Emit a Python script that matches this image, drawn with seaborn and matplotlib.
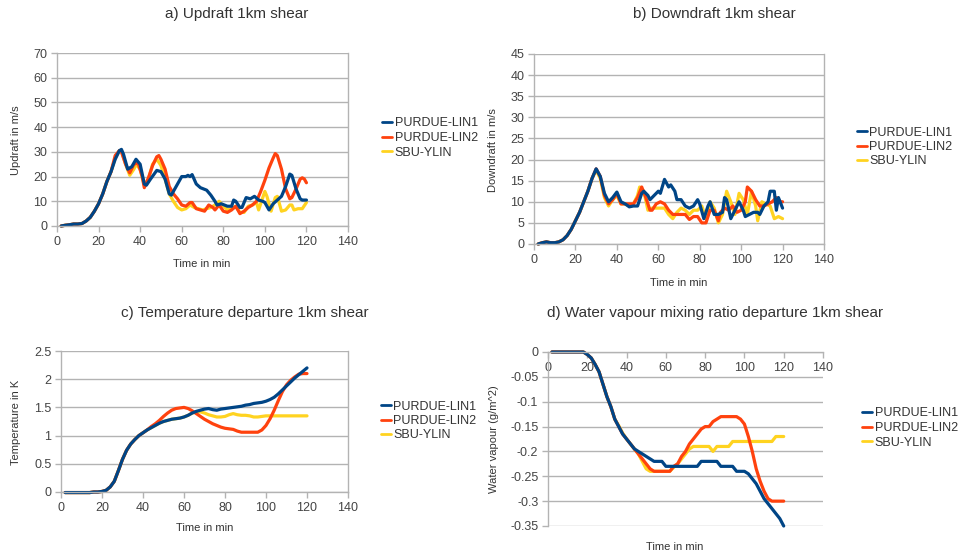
import matplotlib
matplotlib.use("Agg")
import matplotlib.pyplot as plt
import seaborn as sns
import pandas as pd
from matplotlib.lines import Line2D
from matplotlib.ticker import FuncFormatter, MultipleLocator

# ---------------- data ----------------
SERIES = ["PURDUE-LIN1", "PURDUE-LIN2", "SBU-YLIN"]
COLORS = ["#004586", "#ff420e", "#ffd320"]

# a) Updraft (m/s)
up_lin1_t = [2, 4, 6, 8, 10, 12, 14, 16, 18, 20, 22, 24, 26, 28, 30, 31, 32, 34, 36, 38, 40, 42, 43, 45, 48, 50, 52, 54, 55, 57, 60, 62, 63, 64, 65, 67, 69, 72, 74, 76, 77, 79, 82, 84, 85, 86, 88, 89, 91, 93, 95, 97, 99, 100, 102, 104, 106, 108, 110, 112, 113, 115, 117, 118, 120]
up_lin1_v = [0, 0.3, 0.5, 0.8, 0.8, 1.0, 2.0, 3.5, 6, 9, 13, 18, 22, 27, 30.5, 31, 29, 23, 24, 27, 25, 17, 16.5, 19, 22.5, 22, 19, 13, 12.5, 15.5, 20, 20, 20.5, 20, 20.8, 17, 15.5, 14.5, 12.5, 10, 8.5, 9, 8, 8, 10.5, 10, 7.5, 7.5, 11.5, 11, 12, 10.5, 10, 9.5, 6.5, 9, 10.5, 12, 16, 21, 20.5, 15, 11, 10.5, 10.5]
up_lin2_t = [2, 4, 6, 8, 10, 12, 14, 16, 18, 20, 22, 24, 26, 28, 30, 31, 33, 35, 37, 39, 41, 42, 44, 46, 48, 49, 50, 52, 54, 56, 58, 60, 62, 64, 65, 67, 69, 71, 73, 75, 76, 78, 80, 82, 84, 86, 88, 90, 92, 94, 96, 98, 100, 102, 104, 105, 106, 108, 110, 112, 113, 115, 117, 118, 119, 120]
up_lin2_v = [0, 0.3, 0.5, 0.8, 0.8, 1.0, 2.0, 3.5, 6, 9, 13, 18, 22, 28.5, 30.5, 30, 25, 21.5, 25, 25.5, 20, 15.5, 19.5, 24.5, 28, 28.5, 27, 23, 16, 13, 11, 8.5, 8, 9.5, 9.5, 7, 6.5, 6, 8.5, 7.5, 6.5, 8.5, 6, 5.5, 6.5, 8, 5, 6, 7.5, 8.5, 10, 14, 18.5, 23.5, 27.5, 29.3, 28.5, 23, 15, 11, 11.5, 15, 19, 19.5, 19, 17.5]
up_sbu_t = [2, 4, 6, 8, 10, 12, 14, 16, 18, 20, 22, 24, 26, 28, 30, 31, 33, 35, 37, 38, 40, 42, 44, 46, 48, 50, 52, 54, 56, 58, 60, 62, 64, 66, 68, 70, 72, 74, 76, 78, 80, 82, 84, 86, 88, 90, 92, 94, 96, 97, 98, 100, 101, 103, 105, 106, 107, 108, 110, 112, 113, 114, 116, 118, 120]
up_sbu_v = [0, 0.3, 0.5, 0.8, 0.8, 1.0, 2.0, 3.5, 6, 9, 13, 18, 22, 27.5, 30.5, 30.5, 25, 20.5, 23, 25, 23, 16.5, 19, 25, 27, 24.5, 19, 13, 10, 7.5, 6.5, 7, 8.5, 7.5, 7, 6.5, 7, 7.5, 8.5, 10, 8, 6.5, 7, 8, 5.5, 5.5, 8, 8.5, 9.5, 6.5, 9, 14, 12, 6, 11.5, 12, 9, 6, 6.5, 8.5, 8.5, 6.5, 7, 7, 9.5]

# b) Downdraft (m/s)
dn_lin1_t = [2, 4, 6, 8, 10, 12, 14, 16, 18, 20, 22, 24, 26, 28, 30, 32, 34, 36, 38, 40, 42, 44, 46, 48, 50, 52, 53, 55, 56, 58, 60, 61, 63, 65, 66, 68, 69, 71, 73, 75, 77, 79, 80, 82, 84, 85, 87, 89, 91, 92, 93, 95, 97, 99, 101, 102, 104, 106, 108, 109, 111, 113, 114, 116, 117, 118, 120]
dn_lin1_v = [0, 0.3, 0.5, 0.3, 0.3, 0.5, 1, 2, 3.5, 5.5, 7.5, 10, 12.5, 15.5, 17.8, 16, 12, 10, 11, 12.3, 10, 9.5, 8.8, 9, 9, 12, 12.5, 11.5, 10.5, 11.5, 12.5, 12, 15.3, 13.5, 14, 12.5, 10.5, 10.5, 9, 8.5, 9, 10.5, 9.5, 6, 9, 10, 7, 7, 7.5, 11, 10.5, 6, 8, 10, 8, 6.5, 7, 7.5, 7.5, 7, 9, 10, 12.5, 12.5, 8, 11, 8.5]
dn_lin2_t = [2, 4, 6, 8, 10, 12, 14, 16, 18, 20, 22, 24, 26, 28, 30, 32, 34, 36, 38, 40, 42, 44, 46, 48, 50, 52, 54, 56, 57, 59, 61, 63, 65, 67, 69, 71, 73, 75, 77, 79, 81, 83, 85, 87, 89, 90, 92, 94, 96, 98, 100, 102, 103, 105, 107, 109, 111, 113, 115, 117, 119, 120]
dn_lin2_v = [0, 0.3, 0.5, 0.3, 0.3, 0.5, 1, 2, 3.5, 5.5, 7.5, 10, 12.5, 15.5, 17.8, 16, 11.5, 9.5, 10.5, 12, 9.5, 9.5, 9.5, 9.5, 11, 13.5, 11, 8, 8, 9.5, 10, 9.5, 8, 7, 7, 7, 7, 5.8, 6.5, 6.5, 5, 5, 8, 8, 5.5, 7.5, 8.5, 8, 9, 7.5, 8, 10, 13.5, 12.5, 10.5, 9, 9, 9.5, 10, 11, 10, 10]
dn_sbu_t = [2, 4, 6, 8, 10, 12, 14, 16, 18, 20, 22, 24, 26, 28, 30, 32, 34, 36, 38, 40, 42, 44, 46, 48, 50, 51, 53, 55, 57, 59, 61, 63, 65, 67, 69, 71, 73, 75, 77, 79, 81, 83, 85, 87, 89, 91, 93, 95, 97, 99, 101, 103, 105, 107, 108, 110, 112, 114, 116, 118, 120]
dn_sbu_v = [0, 0.3, 0.5, 0.3, 0.3, 0.5, 1, 2, 3.5, 5.5, 7.5, 10, 12.5, 15.5, 17.5, 15.5, 11, 9, 10.5, 11.5, 9.5, 9.5, 9, 9.5, 11.5, 13.5, 12.5, 8, 8.5, 8.5, 8.5, 8.5, 7, 6, 7.5, 8.5, 8, 7, 8, 8, 9, 6, 10, 8.5, 5, 7, 12.5, 10, 7, 12, 10.5, 7, 12.5, 9, 5.5, 10, 9.5, 9, 6, 6.5, 6]

# c) Temperature departure (K), every 2 min from 2 to 120
temp_t = [2, 4, 6, 8, 10, 12, 14, 16, 18, 20, 22, 24, 26, 28, 30, 32, 34, 36, 38, 40, 42, 44, 46, 48, 50, 52, 54, 56, 58, 60, 62, 64, 66, 68, 70, 72, 74, 76, 78, 80, 82, 84, 86, 88, 90, 92, 94, 96, 98, 100, 102, 104, 106, 108, 110, 112, 114, 116, 118, 120]
temp_lin1 = [-0.01, -0.01, -0.01, -0.01, -0.01, -0.01, -0.01, 0.0, 0.0, 0.01,
             0.03, 0.09, 0.19, 0.38, 0.58, 0.74, 0.85, 0.93, 1.0, 1.05,
             1.1, 1.14, 1.18, 1.22, 1.25, 1.27, 1.29, 1.3, 1.31, 1.33,
             1.36, 1.4, 1.43, 1.45, 1.47, 1.48, 1.46, 1.45, 1.47, 1.48,
             1.49, 1.5, 1.51, 1.52, 1.54, 1.55, 1.57, 1.58, 1.59, 1.61,
             1.64, 1.68, 1.74, 1.81, 1.88, 1.95, 2.02, 2.08, 2.14, 2.2]
temp_lin2 = [-0.01, -0.01, -0.01, -0.01, -0.01, -0.01, -0.01, 0.0, 0.0, 0.01,
             0.03, 0.09, 0.19, 0.38, 0.58, 0.74, 0.85, 0.93, 1.0, 1.05,
             1.1, 1.16, 1.21, 1.27, 1.34, 1.4, 1.45, 1.48, 1.49, 1.5,
             1.48, 1.44, 1.39, 1.34, 1.29, 1.25, 1.21, 1.18, 1.15, 1.13,
             1.12, 1.11, 1.08, 1.06, 1.06, 1.06, 1.06, 1.06, 1.1, 1.18,
             1.3, 1.45, 1.62, 1.78, 1.9, 1.98, 2.04, 2.09, 2.1, 2.1]
temp_sbu = [-0.01, -0.01, -0.01, -0.01, -0.01, -0.01, -0.01, 0.0, 0.0, 0.01,
            0.03, 0.09, 0.19, 0.38, 0.58, 0.74, 0.85, 0.93, 1.0, 1.05,
            1.1, 1.14, 1.18, 1.22, 1.25, 1.27, 1.29, 1.3, 1.31, 1.33,
            1.36, 1.4, 1.42, 1.42, 1.4, 1.37, 1.35, 1.33, 1.33, 1.34,
            1.37, 1.39, 1.37, 1.36, 1.36, 1.35, 1.33, 1.33, 1.34, 1.35,
            1.35, 1.35, 1.35, 1.35, 1.35, 1.35, 1.35, 1.35, 1.35, 1.35]

# d) Water vapour mixing ratio departure, every 2 min from 2 to 120
wv_t = [2, 4, 6, 8, 10, 12, 14, 16, 18, 20, 22, 24, 26, 28, 30, 32, 34, 36, 38, 40, 42, 44, 46, 48, 50, 52, 54, 56, 58, 60, 62, 64, 66, 68, 70, 72, 74, 76, 78, 80, 82, 84, 86, 88, 90, 92, 94, 96, 98, 100, 102, 104, 106, 108, 110, 112, 114, 116, 118, 120]
wv_lin1 = [0, 0, 0, 0, 0, 0, 0, 0, 0, -0.005,
           -0.012, -0.025, -0.04, -0.065, -0.09, -0.11, -0.135, -0.15, -0.165, -0.175,
           -0.185, -0.195, -0.2, -0.205, -0.21, -0.215, -0.22, -0.22, -0.22, -0.23,
           -0.23, -0.23, -0.23, -0.23, -0.23, -0.23, -0.23, -0.23, -0.22, -0.22,
           -0.22, -0.22, -0.22, -0.23, -0.23, -0.23, -0.23, -0.24, -0.24, -0.24,
           -0.245, -0.255, -0.265, -0.28, -0.295, -0.305, -0.315, -0.325, -0.335, -0.35]
wv_lin2 = [0, 0, 0, 0, 0, 0, 0, 0, 0, -0.005,
           -0.012, -0.025, -0.04, -0.065, -0.09, -0.11, -0.135, -0.15, -0.165, -0.175,
           -0.185, -0.195, -0.205, -0.215, -0.225, -0.235, -0.24, -0.24, -0.24, -0.24,
           -0.24, -0.23, -0.225, -0.21, -0.2, -0.185, -0.175, -0.165, -0.155, -0.15,
           -0.15, -0.14, -0.135, -0.13, -0.13, -0.13, -0.13, -0.13, -0.135, -0.145,
           -0.17, -0.2, -0.235, -0.26, -0.28, -0.295, -0.3, -0.3, -0.3, -0.3]
wv_sbu = [0, 0, 0, 0, 0, 0, 0, 0, 0, -0.005,
          -0.012, -0.025, -0.04, -0.065, -0.09, -0.11, -0.135, -0.148, -0.163, -0.175,
          -0.185, -0.195, -0.205, -0.22, -0.235, -0.24, -0.24, -0.24, -0.24, -0.24,
          -0.24, -0.232, -0.225, -0.215, -0.205, -0.195, -0.19, -0.19, -0.19, -0.19,
          -0.19, -0.2, -0.19, -0.19, -0.19, -0.19, -0.18, -0.18, -0.18, -0.18,
          -0.18, -0.18, -0.18, -0.18, -0.18, -0.18, -0.18, -0.17, -0.17, -0.17]

X_TICKS = [0, 20, 40, 60, 80, 100, 120, 140]

# ---------------- style ----------------
sns.set_theme(style="white")
plt.rcParams['font.family'] = ['Liberation Sans', 'DejaVu Sans']
plt.rcParams['axes.unicode_minus'] = False

TXT = "#333333"
TICK = "#444444"
GRID = "#b3b3b3"

W, H = 958, 558
fig = plt.figure(figsize=(W / 100, H / 100), dpi=100)


def px_axes(l, t, r, b):
    return fig.add_axes([l / W, 1 - b / H, (r - l) / W, (b - t) / H])


def fmt(v, pos):
    return "%g" % round(v, 4)


def panel(box, series, ylim, ystep, ylabel, ylab_xy, xlab_xy, title, title_xy,
          leg_xy, top_axis=False):
    ax = px_axes(*box)
    order = [2, 1, 0]  # draw yellow, orange, then blue on top
    for i in order:
        t, v = series[i]
        df = pd.DataFrame({"t": t, "v": v})
        sns.lineplot(data=df, x="t", y="v", ax=ax, color=COLORS[i],
                     linewidth=2.3, legend=False, errorbar=None, clip_on=False)
    ax.set_xlabel("")
    ax.set_ylabel("")
    ax.set_xlim(0, 140)
    ax.set_ylim(*ylim)
    ax.set_xticks(X_TICKS)
    ax.yaxis.set_major_locator(MultipleLocator(ystep))
    ax.yaxis.set_major_formatter(FuncFormatter(fmt))
    ax.grid(axis="y", color=GRID, linewidth=1.0)
    ax.grid(axis="x", visible=False)
    ax.set_axisbelow(True)
    for s in ["left", "right", "top", "bottom"]:
        ax.spines[s].set_color(GRID)
        ax.spines[s].set_linewidth(1.0)
    ax.spines["top"].set_visible(False)
    if top_axis:
        ax.spines["bottom"].set_position(("data", 0))
        ax.spines["right"].set_visible(False)
    ax.tick_params(axis="both", which="major", labelsize=9, labelcolor=TICK,
                   color=GRID, length=4, width=1, direction="out", pad=3,
                   left=True, bottom=True)
    fig.text(ylab_xy[0] / W, 1 - ylab_xy[1] / H, ylabel, rotation=90,
             ha="center", va="center", fontsize=8, color=TXT)
    fig.text(xlab_xy[0] / W, 1 - xlab_xy[1] / H, "Time in min",
             ha="center", va="center", fontsize=8, color=TXT)
    fig.text(title_xy[0] / W, 1 - title_xy[1] / H, title,
             ha="center", va="center", fontsize=11, color=TXT)
    handles = [Line2D([], [], color=c, linewidth=2.0) for c in COLORS]
    leg = fig.legend(handles, SERIES, loc="center left",
                     bbox_to_anchor=(leg_xy[0] / W, 1 - leg_xy[1] / H),
                     frameon=False, fontsize=9, handlelength=0.8,
                     handletextpad=0.2, labelspacing=0.2, borderpad=0,
                     borderaxespad=0)
    for tx in leg.get_texts():
        tx.set_color(TXT)
    return ax


panel((57, 53, 348, 226),
      [(up_lin1_t, up_lin1_v), (up_lin2_t, up_lin2_v), (up_sbu_t, up_sbu_v)],
      (0, 70), 10, "Updraft in m/s", (16, 140), (202, 264),
      "a) Updraft 1km shear", (237, 14), (382, 138))

panel((534, 54, 824, 244),
      [(dn_lin1_t, dn_lin1_v), (dn_lin2_t, dn_lin2_v), (dn_sbu_t, dn_sbu_v)],
      (0, 45), 5, "Downdraft in m/s", (493, 150), (679, 283),
      "b) Downdraft 1km shear", (714, 14), (857, 147))

panel((61, 351, 348, 492),
      [(temp_t, temp_lin1), (temp_t, temp_lin2), (temp_t, temp_sbu)],
      (0, 2.5), 0.5, "Temperature in K", (16, 422), (205, 528),
      "c) Temperature departure 1km shear", (245, 313), (381, 421))

panel((548, 352, 823, 526),
      [(wv_t, wv_lin1), (wv_t, wv_lin2), (wv_t, wv_sbu)],
      (-0.35, 0), 0.05, "Water vapour (g/m^2)", (494, 439), (675, 547),
      "d) Water vapour mixing ratio departure 1km shear", (715, 313), (862, 428),
      top_axis=True)

fig.savefig("out.png", dpi=100, facecolor="white")
